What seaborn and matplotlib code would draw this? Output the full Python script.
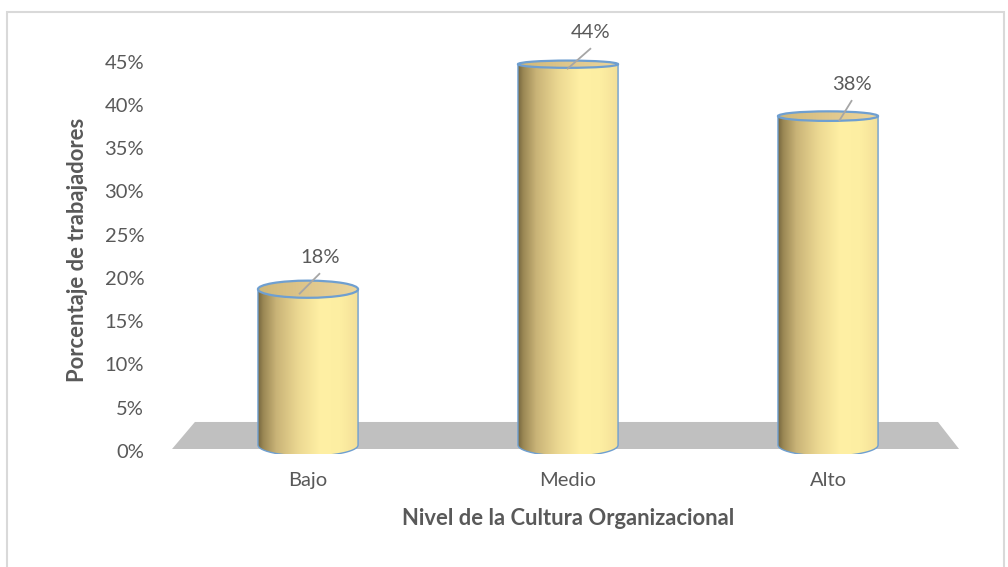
import numpy as np
import matplotlib
matplotlib.use("Agg")
import matplotlib.pyplot as plt
import matplotlib.transforms as mtransforms
import seaborn as sns
from matplotlib.colors import LinearSegmentedColormap
from matplotlib.patches import Ellipse, PathPatch, Polygon, Rectangle
from matplotlib.path import Path
from matplotlib.ticker import FuncFormatter

# Data
niveles = ["Bajo", "Medio", "Alto"]
porcentajes = [18, 44, 38]
y_ticks = [0, 5, 10, 15, 20, 25, 30, 35, 40, 45]

sns.set_theme(style="white")
plt.rcParams["font.family"] = ["Lato", "DejaVu Sans"]

TEXT = "#595959"
EDGE = "#6f9fd0"
FLOOR = "#c0c0c0"

fig = plt.figure(figsize=(10.08, 5.67), dpi=100)
ax = fig.add_axes([0.1637, 0.1999, 0.7996, 0.7174])

df = {"nivel": niveles, "pct": porcentajes}
sns.barplot(x="nivel", y="pct", data=df, width=0.385, ax=ax, color="#f5e39a")

ax.set_xlim(-0.55, 2.55)
ax.set_ylim(-1, 46)
ax.set_yticks(y_ticks)
ax.yaxis.set_major_formatter(FuncFormatter(lambda v, _: f"{v:.0f}%"))
for s in ax.spines.values():
    s.set_visible(False)
ax.tick_params(axis="both", length=0, labelsize=14.5, labelcolor=TEXT)
ax.tick_params(axis="y", pad=15)
ax.tick_params(axis="x", pad=13)
ax.set_xlabel("Nivel de la Cultura Organizacional", fontsize=15.8,
              fontweight="bold", color=TEXT, labelpad=14)
ax.set_ylabel("Porcentaje de trabajadores", fontsize=15.8,
              fontweight="bold", color=TEXT, labelpad=12)
ax.grid(False)

# y tick labels sit on the back wall, slightly below the bar scale
shift = mtransforms.ScaledTranslation(0, -6 / 100, fig.dpi_scale_trans)
for lbl in ax.get_yticklabels():
    lbl.set_transform(lbl.get_transform() + shift)

# pixel -> data scale helpers
px_x = (2.55 + 0.55) / (0.7996 * 1008)
px_y = 47 / (0.7174 * 567)

# Floor plane
floor = Polygon([(-0.523, -0.46), (2.504, -0.46), (2.423, 2.66), (-0.435, 2.66)],
                closed=True, facecolor=FLOOR, edgecolor="none", zorder=0.5)
ax.add_patch(floor)

body_cmap = LinearSegmentedColormap.from_list("body", [
    (0.00, "#76663e"), (0.05, "#9a8754"), (0.18, "#c9b377"), (0.40, "#ecd892"),
    (0.62, "#fff0a4"), (0.82, "#fdeea2"), (1.00, "#f3df98")])
top_cmap = LinearSegmentedColormap.from_list("top", [
    (0.0, "#cfb778"), (0.5, "#dfc78c"), (1.0, "#ecd69c")])
grad = np.linspace(0, 1, 256).reshape(1, -1)

label_dx = [12, 23, 24]
line_dx = [-9, -1, 11]

for i, (bar, v) in enumerate(zip(ax.patches, porcentajes)):
    x0, w = bar.get_x(), bar.get_width()
    xc = x0 + w / 2
    base = bar.get_y()
    top = base + bar.get_height()
    bar.set_visible(False)

    hb = 22 * px_y
    ht = (24 - 0.38 * v) * px_y

    # cylinder body outline: sides plus lower half of the base ellipse
    t = np.linspace(np.pi, 2 * np.pi, 60)
    arc = np.column_stack([xc + w / 2 * np.cos(t), base + hb / 2 * np.sin(t)])
    verts = np.vstack([[x0, top], [x0, base], arc, [x0 + w, top], [x0, top]])
    codes = [Path.MOVETO] + [Path.LINETO] * (len(verts) - 2) + [Path.CLOSEPOLY]
    body = PathPatch(Path(verts, codes), transform=ax.transData,
                     facecolor="none", edgecolor=EDGE, lw=1.0, zorder=2.1)
    im = ax.imshow(grad, cmap=body_cmap, aspect="auto", zorder=2,
                   extent=(x0, x0 + w, base - hb / 2, top), interpolation="bilinear")
    im.set_clip_path(body)
    ax.add_patch(body)

    # top face
    cap = Ellipse((xc, top), w, ht, transform=ax.transData,
                  facecolor="none", edgecolor=EDGE, lw=1.6, zorder=3.1)
    im2 = ax.imshow(grad, cmap=top_cmap, aspect="auto", zorder=3,
                    extent=(x0, x0 + w, top - ht / 2, top + ht / 2),
                    interpolation="bilinear")
    im2.set_clip_path(cap)
    ax.add_patch(cap)

    # value label with leader line
    lx = xc + label_dx[i] * px_x
    ly = top + 32 * px_y
    ax.text(lx, ly, f"{v}%", ha="center", va="center", fontsize=14.5,
            color=TEXT, zorder=5)
    ax.plot([lx, xc + line_dx[i] * px_x], [top + 16 * px_y, top - 5 * px_y],
            color="#a6a6a6", lw=1.3, zorder=4, solid_capstyle="butt")

# chart-area border
fig.add_artist(Rectangle((7 / 1008, -0.05), (1004 - 7) / 1008, 1.05 - 12 / 567,
                         transform=fig.transFigure, fill=False,
                         edgecolor="#d9d9d9", lw=1.5))

fig.savefig("out.png", dpi=100)
